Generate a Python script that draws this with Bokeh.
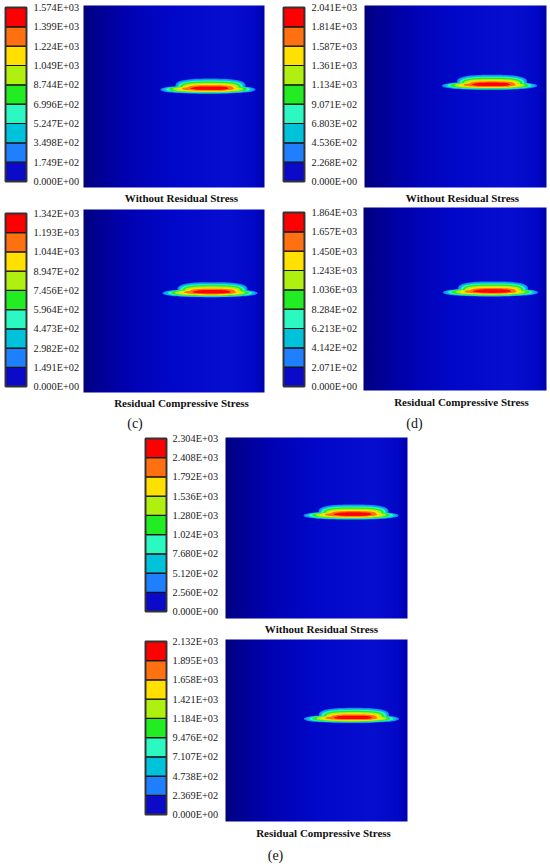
import numpy as np
from bokeh.plotting import figure
from bokeh.models import Range1d
from bokeh.core.properties import value
from bokeh.embed import file_html
from bokeh.resources import INLINE

# ---------------- data ----------------
# contour band colours, lowest band first
band_colors = ["#0A0AC8", "#1E80FF", "#00C2DA", "#2CF8C2", "#22EC22",
               "#B0F010", "#FFE000", "#FF7010", "#FF0000"]

# colour-bar level values, top to bottom, one list per panel
levels_a = [1574, 1399, 1224, 1049, 874.4, 699.6, 524.7, 349.8, 174.9, 0.0]
levels_b = [2041, 1814, 1587, 1361, 1134, 907.1, 680.3, 453.6, 226.8, 0.0]
levels_c = [1342, 1193, 1044, 894.7, 745.6, 596.4, 447.3, 298.2, 149.1, 0.0]
levels_d = [1864, 1657, 1450, 1243, 1036, 828.4, 621.3, 414.2, 207.1, 0.0]
levels_e = [2304, 2408, 1792, 1536, 1280, 1024, 768.0, 512.0, 256.0, 0.0]
levels_f = [2132, 1895, 1658, 1421, 1184, 947.6, 710.7, 473.8, 236.9, 0.0]

captions = ["Without Residual Stress", "Without Residual Stress",
            "Residual Compressive Stress", "Residual Compressive Stress",
            "Without Residual Stress", "Residual Compressive Stress"]

# hot-spot location inside each plot (fraction of width / height from top)
hot_x = [0.688, 0.687, 0.699, 0.694, 0.690, 0.692]
hot_y = [0.484, 0.463, 0.479, 0.486, 0.453, 0.458]

sub_labels = ["(c)", "(d)", "(e)"]

# ---------------- layout (reference pixel coordinates) ----------------
panels = [
    dict(cb=(5, 7, 26, 181), lx=33, plot=(83, 5, 264, 187), cap=(181, 197)),
    dict(cb=(283, 7, 304, 181), lx=311, plot=(364, 5, 546, 187), cap=(462, 197)),
    dict(cb=(5, 213, 26, 386), lx=33, plot=(83, 209, 264, 392), cap=(181, 402)),
    dict(cb=(283, 212, 304, 386), lx=311, plot=(363, 207, 546, 390), cap=(461, 401)),
    dict(cb=(145, 438, 166, 611), lx=172, plot=(225, 437, 407, 618), cap=(321, 628)),
    dict(cb=(145, 641, 166, 814), lx=172, plot=(225, 639, 407, 821), cap=(323, 832)),
]
sub_pos = [(134.5, 423), (414, 423), (275, 855)]
all_levels = [levels_a, levels_b, levels_c, levels_d, levels_e, levels_f]

# background gradient stops (fraction across plot, rgb)
bg_pos = [0.0, 0.04, 0.25, 0.5, 0.8, 0.95, 1.0]
bg_rgb = [(0, 0, 122), (0, 0, 140), (0, 2, 178), (2, 8, 202),
          (6, 14, 208), (2, 8, 198), (0, 2, 174)]

# contour shape of each band (pixels, relative to hot-spot centre / bottom edge)
tail_a = [47.5, 45.0, 42.0, 39.0, 35.0, 31.0, 26.0, 19.0]
tail_top = [8.0, 7.8, 7.6, 7.4, 7.2, 7.0, 6.8, 6.6]
body_a = [35.0, 33.5, 32.0, 30.0, 28.0, 25.5, 22.5, 17.0]
body_top = [15.0, 14.0, 13.0, 12.0, 10.8, 9.6, 8.4, 7.2]
band_bot = [0.0, 0.4, 0.8, 1.2, 1.7, 2.3, 3.0, 3.8]


def slab(cx, cy, a, b, n, m=80):
    t = np.linspace(0, 2 * np.pi, m, endpoint=False)
    c, s = np.cos(t), np.sin(t)
    xs = cx + a * np.sign(c) * np.abs(c) ** (2.0 / n)
    ys = cy + b * np.sign(s) * np.abs(s) ** (2.0 / n)
    return list(xs), list(ys)


W, H = 550, 866
p = figure(width=W, height=H, x_range=Range1d(0, W), y_range=Range1d(H, 0),
           output_backend="svg", toolbar_location=None, min_border=0,
           x_axis_location=None, y_axis_location=None)
p.grid.visible = False
p.outline_line_color = None
p.background_fill_color = "white"
p.border_fill_color = "white"

serif = value("Liberation Serif")

# gradient image row
N = 220
fr = np.linspace(0, 1, N)
rgb = np.array(bg_rgb, dtype=float)
img = np.empty((1, N), dtype=np.uint32)
view = img.view(dtype=np.uint8).reshape((1, N, 4))
for ch in range(3):
    view[0, :, ch] = np.interp(fr, bg_pos, rgb[:, ch]).astype(np.uint8)
view[0, :, 3] = 255

bx, by, bc = [], [], []
for k, pan in enumerate(panels):
    l, t, r, b = pan["plot"]
    p.image_rgba(image=[img], x=l, y=t, dw=r - l, dh=b - t)

    cx = l + hot_x[k] * (r - l)
    cy = t + hot_y[k] * (b - t)
    for j in range(8):
        col = band_colors[j + 1]
        bot = cy - band_bot[j]
        # tail (wide, thin)
        tt = cy - tail_top[j]
        xs, ys = slab(cx + (1.5 if j == 7 else 0.0), (bot + tt) / 2, tail_a[j], (bot - tt) / 2, 2.4)
        bx.append(xs); by.append(ys); bc.append(col)
        # body (narrower, taller)
        bt = cy - body_top[j]
        xs, ys = slab(cx + 2.5, (bot + bt) / 2, body_a[j], (bot - bt) / 2, 2.8)
        bx.append(xs); by.append(ys); bc.append(col)

p.patches(xs=bx, ys=by, fill_color=bc, line_color=None)

# colour bars
ql, qr, qt, qb, qc = [], [], [], [], []
tx, ty, tt_ = [], [], []
for k, pan in enumerate(panels):
    x0, y0, x1, y1 = pan["cb"]
    h = (y1 - y0) / 9.0
    for i in range(9):
        ql.append(x0); qr.append(x1)
        qb.append(y1 - i * h); qt.append(y1 - (i + 1) * h)
        qc.append(band_colors[i])
    for j, v in enumerate(all_levels[k]):
        tx.append(pan["lx"]); ty.append(y0 + j * h); tt_.append("{:.3E}".format(v))

p.quad(left=ql, right=qr, top=qt, bottom=qb, fill_color=qc,
       line_color="#111111", line_width=1.2)
for pan in panels:
    x0, y0, x1, y1 = pan["cb"]
    p.quad(left=[x0], right=[x1], top=[y0], bottom=[y1], fill_color=None,
           line_color="#333333", line_width=1.8)

p.text(x=tx, y=ty, text=tt_, text_font=serif, text_font_size="10.3px",
       text_color="#222222", text_align="left", text_baseline="middle")

p.text(x=[pan["cap"][0] for pan in panels], y=[pan["cap"][1] for pan in panels],
       text=captions, text_font=serif, text_font_size="11px", text_font_style="bold",
       text_color="#111111", text_align="center", text_baseline="middle")

p.text(x=[s[0] for s in sub_pos], y=[s[1] for s in sub_pos], text=sub_labels,
       text_font=serif, text_font_size="14px", text_color="#111111",
       text_align="center", text_baseline="middle")

open("out.html", "w").write(file_html(p, INLINE))
